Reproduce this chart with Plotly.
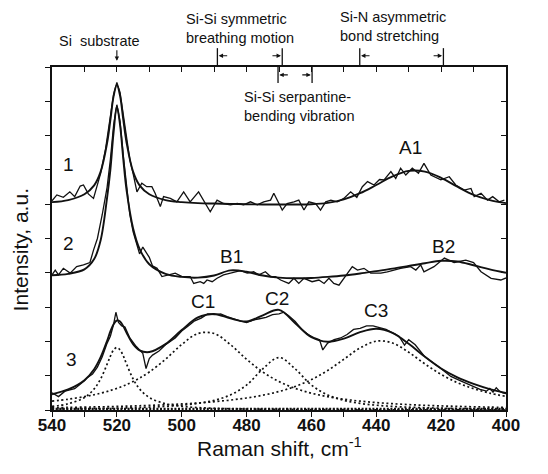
import plotly.graph_objects as go

# ---------------- data ----------------
# grid for smooth fitted curves, Raman shift in cm-1
x_fit = [540, 535, 530, 527, 525, 523, 522, 521, 520, 519, 518, 517, 515, 513, 510, 505, 500, 495, 490,
         485, 480, 475, 470, 465, 460, 455, 450, 445, 440, 435, 430, 425, 420, 415, 410, 405, 400]

# spectrum 1 (measured)
x1 = [540, 538.5, 536.5, 534.5, 533, 531.3, 530.3, 528.8, 527.2, 525.7, 525, 523.5, 522, 521, 520, 519, 518,
      517, 516, 515, 513.8, 512.3, 510.8, 509.2, 508.2, 506.6, 505.6, 503.5, 501.5, 499.4, 497.4, 494.8,
      493.2, 491.2, 489.1, 487.1, 485, 482.9, 480.9, 478.8, 476.7, 474.7, 472.6, 471.6, 469, 467.5, 465.4,
      463.9, 462.3, 460.8, 458.7, 457.2, 455.6, 454, 452, 450, 447.9, 446, 444.3, 442.7, 440.7, 439, 437.6,
      435.5, 434, 432.5, 430.9, 428.9, 427, 425.3, 423.2, 420.1, 417.5, 415.5, 412.9, 410.8, 409.8, 407.7,
      405.7, 404.1, 402.1, 400.5]
y1 = [6.1, 6.27, 6.2, 6.36, 6.22, 6.53, 6.56, 6.3, 6.17, 6.63, 6.9, 7.6, 8.5, 9.2, 9.55, 9.25, 8.6, 7.9, 7.3,
      6.9, 6.36, 6.61, 6.51, 6.51, 6.32, 5.93, 6.22, 6.17, 6.07, 6.36, 6.07, 6.36, 6.12, 5.78, 6.12, 6.02,
      5.98, 6.02, 5.98, 6.07, 5.98, 6.07, 6.12, 6.32, 5.83, 6.02, 6.07, 6.12, 5.83, 6.07, 6.02, 5.83, 6.07,
      6.12, 6.07, 6.17, 6.36, 6.2, 6.51, 6.66, 6.56, 6.72, 6.71, 6.95, 6.75, 7.05, 6.85, 7.05, 6.9, 7.19,
      6.85, 6.71, 6.8, 6.56, 6.41, 6.46, 6.22, 6.32, 6.12, 6.22, 6.07, 6.12]
fit1 = [6.06, 6.12, 6.29, 6.55, 6.95, 7.79, 8.45, 9.15, 9.48, 9.15, 8.45, 7.79, 6.95, 6.55, 6.29, 6.12, 6.06,
        6.03, 6.02, 6.01, 6.0, 5.99, 5.99, 5.99, 6.0, 6.04, 6.14, 6.32, 6.56, 6.81, 6.97, 6.95, 6.77, 6.51,
        6.27, 6.12, 6.03]

# spectrum 2 (measured)
x2 = [540, 539, 538, 536.5, 534.4, 532.4, 530.3, 528.3, 527.2, 526, 524.5, 523, 522, 521, 520, 519, 518, 517,
      516, 515, 514, 513, 512, 511, 510, 509, 507.6, 506.1, 504.1, 502, 499.9, 497.4, 496.3, 494.3, 493.2,
      492.2, 490.6, 489.1, 487.1, 484.5, 481.9, 479.8, 477.8, 476.2, 474.2, 472.6, 471.1, 469.5, 467, 465.4,
      463.9, 462.3, 459.8, 457.7, 456.1, 454.6, 453.1, 451.5, 450, 447.4, 445.8, 443.8, 441.7, 438.6, 436.6,
      432.5, 429.4, 427.8, 426.3, 425.3, 422.2, 419, 416, 412.4, 410, 407.7, 404.6, 401.6, 400]
y2 = [3.94, 4.08, 3.94, 4.13, 3.99, 4.18, 4.23, 4.3, 4.66, 5.0, 5.7, 6.5, 7.3, 8.3, 8.9, 8.4, 7.4, 6.5, 5.7,
      5.2, 4.9, 4.55, 4.75, 4.6, 4.45, 4.2, 4.13, 3.89, 3.94, 3.99, 3.89, 3.89, 3.69, 3.74, 3.69, 3.79, 3.74,
      3.84, 3.94, 3.99, 4.06, 3.99, 4.03, 3.94, 4.03, 3.89, 3.89, 3.79, 3.69, 3.84, 3.69, 3.84, 3.74, 3.79,
      3.69, 3.84, 3.69, 3.64, 3.84, 4.18, 4.08, 4.13, 3.99, 3.99, 4.03, 4.13, 4.18, 4.08, 4.23, 4.03, 4.18,
      4.43, 4.3, 4.37, 4.3, 4.03, 3.84, 3.79, 3.85]
fit2 = [3.93, 3.97, 4.1, 4.4, 4.95, 6.2, 7.0, 8.1, 8.85, 8.3, 7.3, 6.4, 5.3, 4.7, 4.25, 3.97, 3.88, 3.86, 3.92,
        4.07, 4.03, 3.92, 3.86, 3.84, 3.85, 3.88, 3.92, 3.98, 4.05, 4.12, 4.2, 4.28, 4.35, 4.33, 4.22, 4.1, 4.0]

# spectrum 3 (measured)
x3 = [540, 538, 536, 533, 530, 529, 527.5, 526, 524.5, 523, 522, 521, 520.3, 519.5, 518.5, 517.5, 516, 514,
      512, 511, 510, 509, 507, 505, 502, 500, 498, 496, 494, 492, 490, 488, 486, 484, 482, 480, 478, 476,
      474, 472, 470, 468.5, 467, 465, 463, 461, 459, 457.5, 456.5, 455, 453, 451, 449, 447, 445, 443, 441,
      439, 437, 435, 433, 431.3, 430, 428, 425, 420, 417, 414, 411, 408, 406, 405, 404, 403, 402, 401, 400]
y3 = [0.5, 0.39, 0.55, 0.62, 0.85, 0.95, 1.05, 1.25, 1.55, 1.95, 2.15, 2.5, 2.85, 2.55, 2.45, 2.42, 2.1, 1.85,
      1.65, 1.21, 1.5, 1.6, 1.72, 1.9, 2.1, 2.3, 2.45, 2.6, 2.68, 2.8, 2.78, 2.8, 2.72, 2.65, 2.6, 2.55, 2.62,
      2.66, 2.7, 2.78, 2.8, 2.85, 2.75, 2.58, 2.35, 2.2, 2.1, 2.05, 1.75, 1.95, 2.05, 2.1, 2.2, 2.35, 2.38,
      2.45, 2.45, 2.4, 2.35, 2.25, 2.15, 1.89, 2.05, 1.9, 1.55, 1.2, 0.98, 0.85, 0.72, 0.6, 0.55, 0.63, 0.52,
      0.65, 0.55, 0.5, 0.48]
fit3 = [0.46, 0.6, 0.87, 1.19, 1.54, 2.02, 2.29, 2.5, 2.61, 2.58, 2.44, 2.25, 1.92, 1.74, 1.69, 1.92, 2.33,
        2.7, 2.8, 2.67, 2.58, 2.76, 2.92, 2.53, 2.12, 1.99, 2.08, 2.27, 2.37, 2.25, 1.93, 1.55, 1.21, 0.95,
        0.76, 0.61, 0.5]

# components of spectrum 3 (dotted)
comp_si = [0.107, 0.182, 0.364, 0.615, 0.91, 1.338, 1.569, 1.75, 1.82, 1.75, 1.569, 1.338, 0.91, 0.615, 0.364,
           0.182, 0.107, 0.07, 0.049, 0.036, 0.028, 0.022, 0.018, 0.015, 0.013, 0.011, 0.009, 0.008, 0.007,
           0.006, 0.006, 0.005, 0.005, 0.004, 0.004, 0.003, 0.003]
comp_c1 = [0.259, 0.314, 0.388, 0.445, 0.49, 0.54, 0.569, 0.598, 0.63, 0.665, 0.70, 0.74, 0.829, 0.929, 1.107,
           1.48, 1.908, 2.23, 2.23, 1.908, 1.48, 1.107, 0.829, 0.63, 0.49, 0.388, 0.314, 0.259, 0.216, 0.183,
           0.157, 0.136, 0.119, 0.105, 0.093, 0.083, 0.075]
comp_c2 = [0.028, 0.032, 0.037, 0.041, 0.044, 0.048, 0.049, 0.051, 0.053, 0.055, 0.058, 0.06, 0.065, 0.071,
           0.082, 0.105, 0.14, 0.193, 0.282, 0.438, 0.726, 1.198, 1.53, 1.198, 0.726, 0.438, 0.282, 0.193, 0.14,
           0.105, 0.082, 0.065, 0.053, 0.044, 0.037, 0.032, 0.028]
comp_c3 = [0.069, 0.075, 0.084, 0.089, 0.093, 0.097, 0.1, 0.102, 0.104, 0.107, 0.109, 0.112, 0.117, 0.123,
           0.133, 0.153, 0.176, 0.205, 0.242, 0.289, 0.35, 0.431, 0.539, 0.686, 0.886, 1.152, 1.479, 1.808,
           2.007, 1.954, 1.683, 1.342, 1.037, 0.798, 0.622, 0.491, 0.396]
baseline_x = [540, 400]
baseline_y = [0.03, 0.03]

# labels
curve_labels = ["1", "2", "3"]
curve_label_x = [535, 535, 533.9]
curve_label_y = [7.15, 4.84, 1.46]
peak_labels = ["A1", "B1", "B2", "C1", "C2", "C3"]
peak_label_x = [429.4, 484.5, 419.3, 493.3, 470.6, 440.2]
peak_label_y = [7.64, 4.47, 4.78, 3.16, 3.24, 2.89]

band_texts = ["Si-Si symmetric<br>breathing motion", "Si-Si serpantine-<br>bending vibration",
              "Si-N asymmetric<br>bond stretching"]
band_hi = [489, 470.3, 445.1]
band_lo = [469, 459.8, 419.3]
si_substrate_pos = 520

x_ticks = [540, 530, 520, 510, 500, 490, 480, 470, 460, 450, 440, 430, 420, 410, 400]
x_ticktext = ["540", "", "520", "", "500", "", "480", "", "460", "", "440", "", "420", "", "400"]
y_ticks = [0, 1, 2, 3, 4, 5, 6, 7, 8, 9, 10]

# ---------------- figure ----------------
FONT = "Liberation Sans, Arial, sans-serif"
BLACK = "#111111"
fig = go.Figure()

def add_line(x, y, width, dash="solid", shape="linear", **kw):
    fig.add_trace(go.Scatter(x=x, y=y, mode="lines", showlegend=False, hoverinfo="skip",
                             line=dict(color=BLACK, width=width, dash=dash, shape=shape), **kw))

dotted = "2px,2.6px"
for comp in (comp_si, comp_c1, comp_c2, comp_c3):
    add_line(x_fit, comp, 1.7, dash=dotted, shape="spline")
fig.add_trace(go.Scatter(x=baseline_x, y=baseline_y, mode="lines", showlegend=False, hoverinfo="skip",
                         xaxis="x2", yaxis="y2",
                         line=dict(color=BLACK, width=2.2, dash="2px,1.6px")))

for xs, ys in ((x1, y1), (x2, y2), (x3, y3)):
    add_line(xs, ys, 1.3)
for fy in (fit1, fit2, fit3):
    add_line(x_fit, fy, 1.9, shape="spline")

ann = []
for t, x, y in zip(curve_labels, curve_label_x, curve_label_y):
    ann.append(dict(text=t, x=x, y=y, xref="x", yref="y", showarrow=False,
                    font=dict(size=19, family=FONT, color=BLACK)))
for t, x, y in zip(peak_labels, peak_label_x, peak_label_y):
    ann.append(dict(text=t, x=x, y=y, xref="x", yref="y", showarrow=False,
                    font=dict(size=19, family=FONT, color=BLACK)))

# top labels (paper y: 1.0 = top of plot, 0.1 per y unit)
small = dict(size=14.5, family=FONT, color=BLACK)
ann.append(dict(text="Si  substrate", x=525.2, y=1.105, xref="x", yref="paper", showarrow=False, font=small))
ann.append(dict(text="", x=si_substrate_pos, y=1.018, xref="x", yref="paper", ax=0, ay=-12,
                axref="pixel", ayref="pixel", showarrow=True, arrowhead=2, arrowsize=0.8, arrowwidth=1.1,
                arrowcolor=BLACK, standoff=0))
text_pos = [(482.1, 1.112), (463.7, 0.886), (435.0, 1.118)]
bar_y = [(1.003, 1.055), (0.953, 1.0), (1.003, 1.055)]
arrow_y = [1.033, 0.977, 1.033]
shapes = []
for i, t in enumerate(band_texts):
    ann.append(dict(text=t, x=text_pos[i][0], y=text_pos[i][1], xref="x", yref="paper", showarrow=False,
                    font=small, align="left", yanchor="middle"))
    for xb in (band_hi[i], band_lo[i]):
        shapes.append(dict(type="line", xref="x", yref="paper", x0=xb, x1=xb, y0=bar_y[i][0],
                           y1=bar_y[i][1], line=dict(color=BLACK, width=1.3)))
    ann.append(dict(text="", x=band_hi[i] - 0.4, y=arrow_y[i], ax=10, ay=0,
                    xref="x", yref="paper", axref="pixel", ayref="pixel", showarrow=True, arrowhead=2,
                    arrowsize=0.8, arrowwidth=1.1, arrowcolor=BLACK, standoff=0))
    ann.append(dict(text="", x=band_lo[i] + 0.4, y=arrow_y[i], ax=-10, ay=0,
                    xref="x", yref="paper", axref="pixel", ayref="pixel", showarrow=True, arrowhead=2,
                    arrowsize=0.8, arrowwidth=1.1, arrowcolor=BLACK, standoff=0))

# axis titles
ann.append(dict(text="Raman shift, cm<sup>-1</sup>", x=0.5, y=-0.108, xref="paper", yref="paper",
                yanchor="middle", showarrow=False, font=dict(size=21, family=FONT, color=BLACK)))
ann.append(dict(text="Intensity, a.u.", x=-0.07, y=0.466, xref="paper", yref="paper", textangle=-90,
                showarrow=False, xanchor="center", yanchor="middle",
                font=dict(size=21, family=FONT, color=BLACK)))

axis_common = dict(showgrid=False, zeroline=False, showline=True, linecolor=BLACK, linewidth=1.5,
                   ticklen=5, tickwidth=1.3, tickcolor=BLACK)
fig.update_layout(
    width=548, height=474,
    margin=dict(l=52, r=42, t=67, b=64),
    paper_bgcolor="white", plot_bgcolor="white",
    xaxis=dict(range=[540, 400], tickvals=x_ticks, ticktext=x_ticktext, ticks="outside", mirror=True,
               ticklabelstandoff=-6,
               tickfont=dict(size=17, family=FONT, color=BLACK, weight="bold"), **axis_common),
    xaxis2=dict(range=[540, 400], overlaying="x", side="top", anchor="y2", tickvals=x_ticks,
                ticks="inside", showticklabels=False, visible=True, **axis_common),
    yaxis=dict(range=[0, 10], tickvals=y_ticks, ticks="outside", showticklabels=False, mirror=True,
               **axis_common),
    yaxis2=dict(range=[0, 10], overlaying="y", side="right", anchor="x2", tickvals=y_ticks,
                ticks="inside", showticklabels=False, visible=True, **axis_common),
    annotations=ann, shapes=shapes,
    font=dict(family=FONT, color=BLACK),
)

fig.write_html("out.html", post_script="document.body.style.margin='0px';",
               config={"displayModeBar": False})
